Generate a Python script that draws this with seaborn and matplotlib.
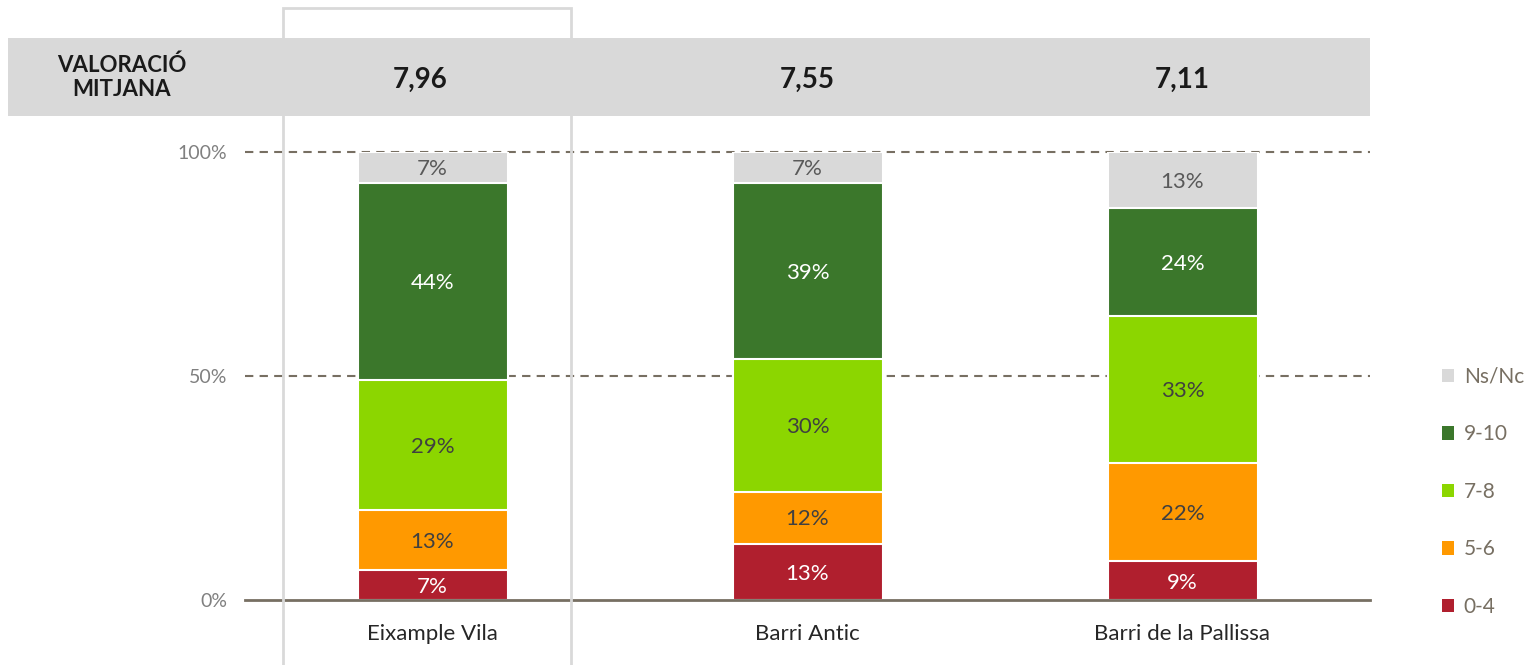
import numpy as np
import pandas as pd
import matplotlib
matplotlib.use("Agg")
import matplotlib.pyplot as plt
from matplotlib.patches import Patch, Rectangle
import seaborn as sns

# data (percentages per neighbourhood)
barris = ["Eixample Vila", "Barri Antic", "Barri de la Pallissa"]
mitjana = ["7,96", "7,55", "7,11"]
series = ["0-4", "5-6", "7-8", "9-10", "Ns/Nc"]
v_0_4 = [6.6, 12.6, 8.6]
v_5_6 = [13.4, 11.6, 22.0]
v_7_8 = [29.0, 29.6, 32.7]
v_9_10 = [44.1, 39.3, 24.1]
v_nsnc = [6.9, 6.9, 12.6]

colors = {"0-4": "#B01F2E", "5-6": "#FF9900", "7-8": "#8CD600",
          "9-10": "#3B772B", "Ns/Nc": "#D9D9D9"}
text_colors = {"0-4": "white", "5-6": "#404040", "7-8": "#404040",
               "9-10": "white", "Ns/Nc": "#595959"}

df = pd.DataFrame({"Barri": barris, "0-4": v_0_4, "5-6": v_5_6,
                   "7-8": v_7_8, "9-10": v_9_10, "Ns/Nc": v_nsnc})
cum = df[series].cumsum(axis=1)

sns.set_style("white")
plt.rcParams["font.family"] = ["Lato", "DejaVu Sans"]

fig = plt.figure(figsize=(15.24, 6.65), dpi=100)
ax = fig.add_axes([245 / 1524, 1 - 600 / 665, 1125 / 1524, 448 / 665])

# header band and highlight box (figure coords)
fig.patches.append(Rectangle((8 / 1524, 1 - 116 / 665), 1362 / 1524, 78 / 665,
                             transform=fig.transFigure, facecolor="#D9D9D9",
                             edgecolor="none", zorder=0))
fig.patches.append(Rectangle((283 / 1524, -0.02), 288 / 1524, 1.008,
                             transform=fig.transFigure, facecolor="none",
                             edgecolor="#D9D9D9", linewidth=2, zorder=1))

# stacked bars: draw cumulative totals from the top layer down
for s in reversed(series):
    sns.barplot(x=df["Barri"], y=cum[s], color=colors[s], width=0.4,
                saturation=1, edgecolor="white", linewidth=1.5, ax=ax,
                zorder=3)

# segment labels
for i in range(len(df)):
    for s in series:
        top = cum.loc[i, s]
        val = df.loc[i, s]
        ax.text(i, top - val / 2 - 0.4, "%.0f%%" % val, ha="center",
                va="center", fontsize=16, color=text_colors[s], zorder=5)

ax.set_xlim(-0.5, 2.5)
ax.set_ylim(0, 100)
ax.set_yticks([0, 50, 100])
ax.set_yticklabels(["0%", "50%", "100%"])
ax.set_xlabel("")
ax.set_ylabel("")
for y in [50, 100]:
    ax.axhline(y, color="#776F62", linestyle=(0, (4, 3)), linewidth=1.5,
               zorder=1, clip_on=False)
for sp in ["top", "left", "right"]:
    ax.spines[sp].set_visible(False)
ax.spines["bottom"].set_color("#776F62")
ax.spines["bottom"].set_linewidth(2)
ax.spines["bottom"].set_zorder(6)
ax.tick_params(axis="y", length=0, pad=13, labelsize=14, labelcolor="#808080")
ax.tick_params(axis="x", length=0, pad=17, labelsize=16, labelcolor="#262626")

# header texts
fig.text(122 / 1524, 1 - 77 / 665, "VALORACIÓ\nMITJANA", ha="center",
         va="center", fontsize=16, fontweight="bold", color="#1A1A1A",
         linespacing=1.2)
for i, m in enumerate(mitjana):
    xf = ax.transData.transform((i, 0))[0] / fig.bbox.width
    if i == 0:
        xf -= 12 / 1524
    fig.text(xf, 1 - 80 / 665, m, ha="center", va="center", fontsize=20,
             fontweight="bold", color="#1A1A1A")

# legend
handles = [Patch(facecolor=colors[s], edgecolor="none", label=s)
           for s in reversed(series)]
fig.legend(handles=handles, loc="upper left",
           bbox_to_anchor=(1423 / 1524, 1 - 348 / 665), frameon=False,
           fontsize=15, labelcolor="#776F62", handlelength=0.6,
           handleheight=0.6, handletextpad=0.45, labelspacing=1.8)

fig.savefig("out.png", dpi=100)
